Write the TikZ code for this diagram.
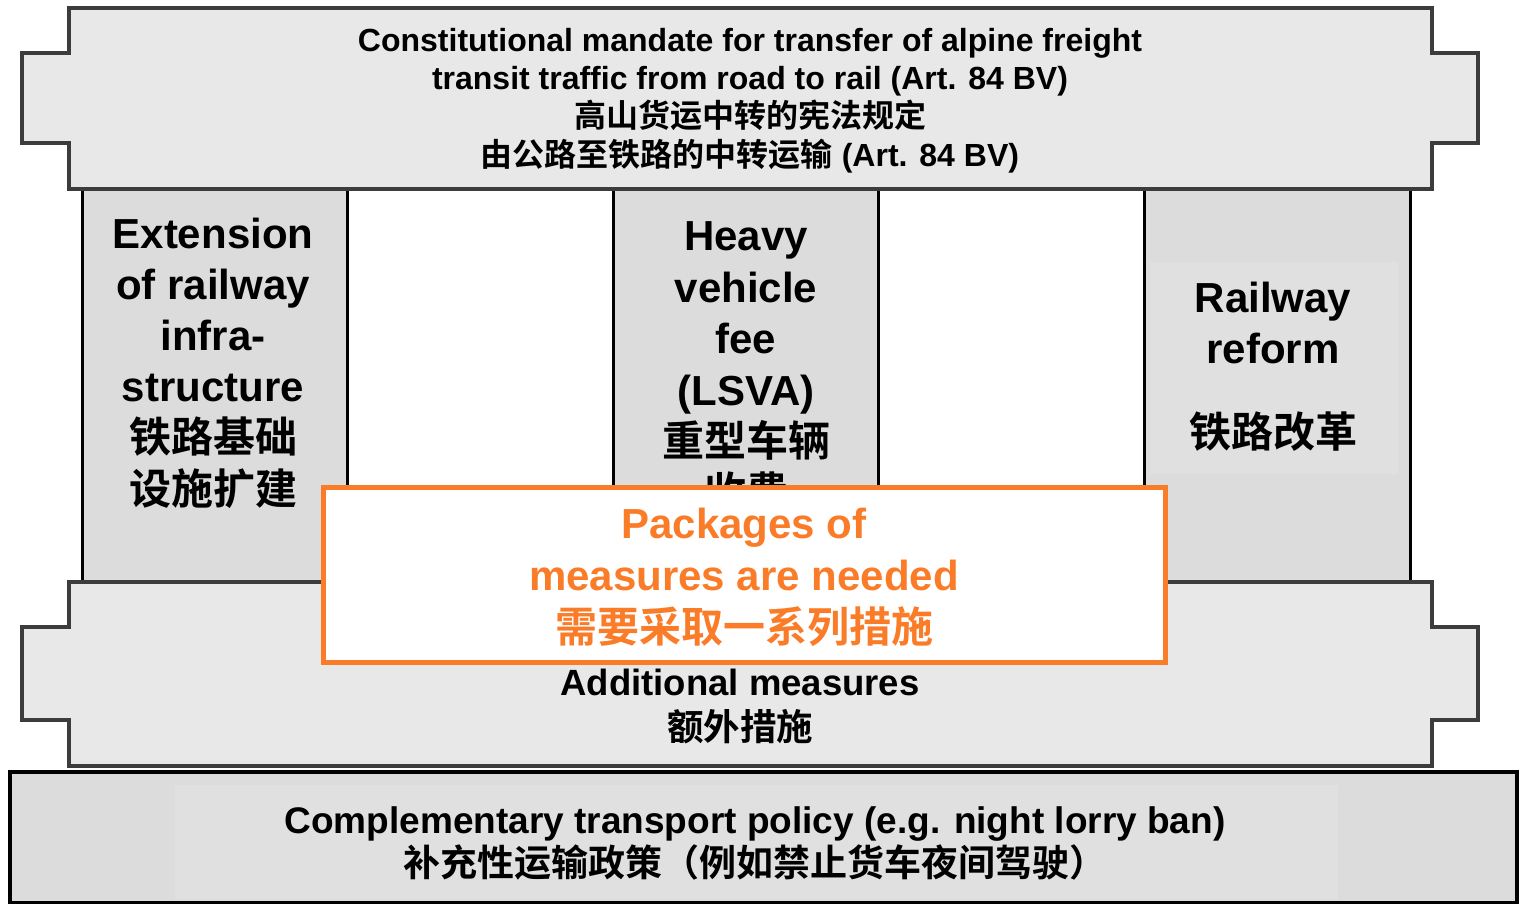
\documentclass[tikz,border=0pt]{standalone}
\usepackage{fontspec}
\setmainfont{Liberation Sans}
\newfontfamily\cjk{Noto Sans CJK SC}[BoldFont={Noto Sans CJK SC Bold}]
\definecolor{bannerfill}{RGB}{232,232,232}
\definecolor{pillarfill}{RGB}{220,220,220}
\definecolor{innerfill}{RGB}{224,224,224}
\definecolor{bannerline}{RGB}{60,60,60}
\definecolor{orangeline}{RGB}{250,124,40}
\tikzset{
  banner/.style={fill=bannerfill, draw=bannerline, line width=4pt, line join=miter},
  pillar/.style={fill=pillarfill, draw=black, line width=3pt},
  gap/.style={fill=white, draw=black, line width=3pt},
  base/.style={fill=pillarfill, draw=black, line width=3.5pt},
  txt/.style={inner sep=0pt, align=center, font=\bfseries},
  pkg/.style={fill=white, draw=orangeline, line width=5pt},
}
\begin{document}
\begin{tikzpicture}[x=1pt,y=-1pt]
\useasboundingbox (0,0) rectangle (1523,904);
% base
\draw[base] (10,772) rectangle (1517,903);
\fill[innerfill] (175,785) rectangle (1338,899);
% pillars
\draw[pillar] (82,189) rectangle (347,582);
\draw[gap] (347,189) rectangle (613,582);
\draw[pillar] (613,189) rectangle (878,582);
\draw[gap] (878,189) rectangle (1144,582);
\draw[pillar] (1144,189) rectangle (1410,582);
\fill[innerfill] (1150,262) rectangle (1398,474);
% top banner
\draw[banner] (69,8) -- (1432,8) -- (1432,53) -- (1478,53) -- (1478,143) -- (1432,143) -- (1432,189) -- (69,189) -- (69,143) -- (22,143) -- (22,53) -- (69,53) -- cycle;
% bottom banner
\draw[banner] (69,582) -- (1432,582) -- (1432,627) -- (1478,627) -- (1478,720) -- (1432,720) -- (1432,766) -- (69,766) -- (69,720) -- (22,720) -- (22,627) -- (69,627) -- cycle;
% texts
\node[txt, font=\bfseries\fontsize{32}{38.4}\selectfont] (mandate) at (750,100.5)
  {Constitutional mandate for transfer of alpine freight\\
   transit traffic from road to rail (Art. 84 BV)\\
   {\cjk 高山货运中转的宪法规定}\\
   {\cjk 由公路至铁路的中转运输} (Art. 84 BV)};
\node[txt, font=\bfseries\fontsize{42}{51.2}\selectfont] (infra) at (213,363)
  {Extension\\of railway\\infra-\\structure\\{\cjk 铁路基础}\\{\cjk 设施扩建}};
\node[txt, font=\bfseries\fontsize{42}{51.4}\selectfont] (lsva) at (746,367)
  {Heavy\\vehicle\\fee\\(LSVA)\\{\cjk 重型车辆}\\{\cjk 收费}};
\node[txt, font=\bfseries\fontsize{42}{51}\selectfont] (reform) at (1273,366.5)
  {Railway\\reform\\[33pt]{\cjk 铁路改革}};
\node[txt, font=\bfseries\fontsize{36.5}{45}\selectfont] (additional) at (740,707)
  {Additional measures\\{\cjk 额外措施}};
\node[txt, font=\bfseries\fontsize{37}{43.5}\selectfont] (policy) at (755,843.5)
  {Complementary transport policy (e.g. night lorry ban)\\
   {\cjk 补充性运输政策（例如禁止货车夜间驾驶）}};
% packages box
\draw[pkg] (323,487) rectangle (1165,662);
\node[txt, text=orangeline, font=\bfseries\fontsize{42}{52}\selectfont] (packages) at (744,577)
  {Packages of\\measures are needed\\{\cjk 需要采取一系列措施}};
\end{tikzpicture}
\end{document}
